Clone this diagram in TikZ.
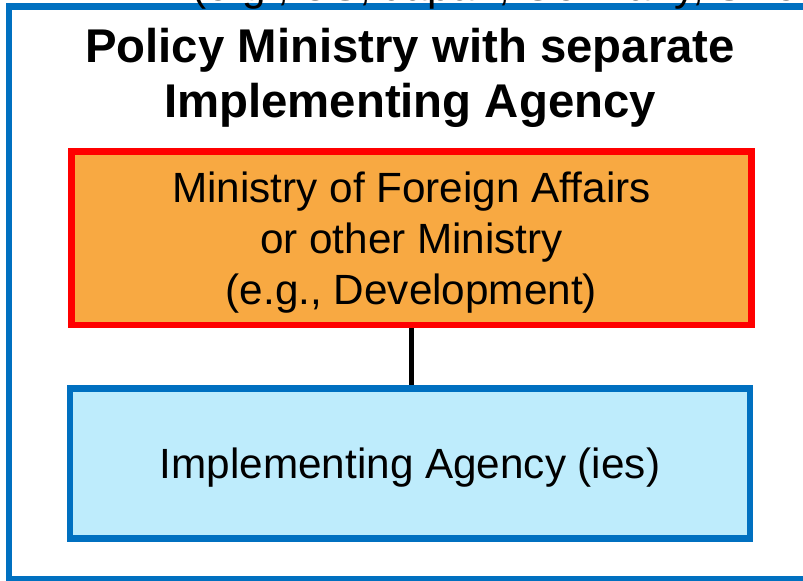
\documentclass[tikz,border=0pt]{standalone}
\usepackage{fontspec}
\setmainfont{Liberation Sans}
\usepackage{tikz}
\usetikzlibrary{calc}
\definecolor{frameblue}{RGB}{0,112,192}
\definecolor{ministryorange}{RGB}{248,169,66}
\definecolor{agencycyan}{RGB}{190,236,252}
\def\bodyfont{\fontsize{31.7}{38.3}\selectfont}
\tikzset{
	orgbox/.style={draw, line width=4.9pt, rectangle, inner sep=0pt, align=center, text depth=0pt, font=\bodyfont},
	orglink/.style={line width=3.8pt}
}

\begin{document}
\begin{tikzpicture}[x=0.75pt, y=-0.75pt]
			%%%%% START %%%%%
			
			\useasboundingbox (0, 0) rectangle (803, 581);
			
			\draw[line width=5pt, color=frameblue] (9, 6.5) rectangle (840, 579.5);
			
			\node[anchor=base west, font=\bodyfont] (note) at (188, 1) {(e.g., US, Japan, Germany, Sweden)};
			
			\node[anchor=base, align=center, font=\fontsize{35.5}{41.3}\selectfont\bfseries] (title) at (410, 118) {Policy Ministry with separate\\Implementing Agency};
			
			\node[orgbox, color=red, fill=ministryorange, text=black, minimum width=510pt, minimum height=130pt] (ministry) at (411.5, 238.25) {Ministry of Foreign Affairs\\or other Ministry\\(e.g., Development)};
			
			\node[orgbox, color=frameblue, fill=agencycyan, text=black, minimum width=510pt, minimum height=112.5pt] (agency) at (410, 463.5) {Implementing Agency (ies)};
			
			\draw[orglink] (ministry.south) -- (ministry.south |- agency.north);
			
			%%%%% END %%%%%
		\end{tikzpicture}
\end{document}
